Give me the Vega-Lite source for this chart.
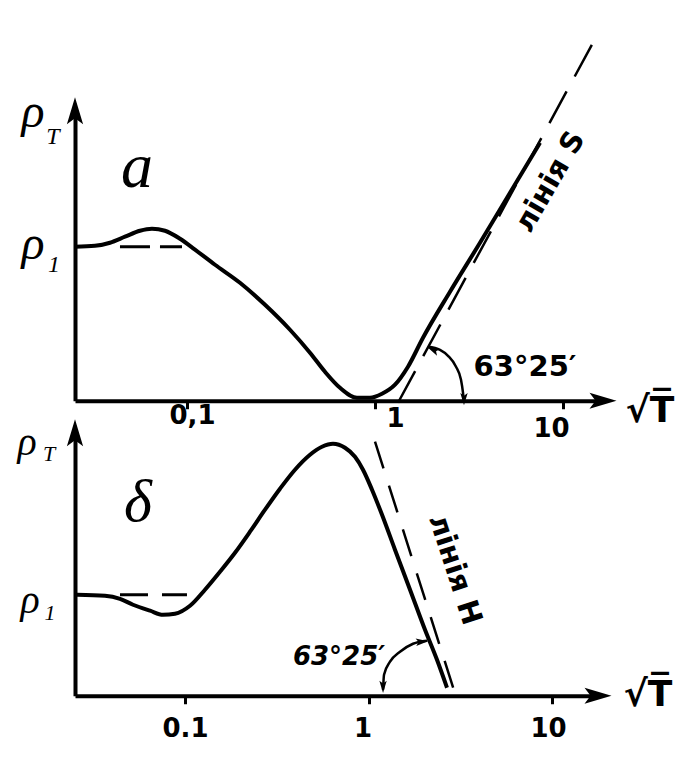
{
  "$schema": "https://vega.github.io/schema/vega-lite/v6.json",
  "background": "white",
  "padding": {"left": 17, "top": 36.75, "right": 0, "bottom": 0},
  "spacing": 32,
  "bounds": "flush",
  "config": {
    "view": {"stroke": null},
    "axis": {"domainColor": "black", "tickColor": "black", "labelColor": "black", "labelFont": "DejaVu Sans", "labelFontWeight": "bold", "grid": false, "title": null}
  },
  "vconcat": [
    {
      "width": 528,
      "height": 290,
      "encoding": {
        "x": {"field": "x", "type": "quantitative", "scale": {"type": "log", "domain": [0.02537, 16.32], "nice": false},
          "axis": {"values": [0.1, 1, 10], "labelExpr": "datum.value < 0.5 ? '0,1' : (datum.value < 5 ? '1' : '10')", "domainWidth": 4, "tickWidth": 3, "tickSize": 8, "labelFontSize": 26,
            "labelOffset": {"condition": [{"test": "datum.value < 0.5", "value": 5}, {"test": "datum.value < 5", "value": 20}], "value": -12},
            "labelPadding": {"condition": [{"test": "datum.value < 0.5", "value": -6}, {"test": "datum.value < 5", "value": -3}], "value": 7}}},
        "y": {"field": "y", "type": "quantitative", "scale": {"domain": [0, 1.883], "nice": false, "zero": false},
          "axis": {"labels": false, "ticks": false, "domainWidth": 4}}
      },
      "layer": [
        {"data": {"values": [
          {"x": 0.02537, "y": 1.0}, {"x": 0.0324, "y": 1.006}, {"x": 0.03895, "y": 1.026}, {"x": 0.04679, "y": 1.065},
          {"x": 0.05623, "y": 1.104}, {"x": 0.06514, "y": 1.117}, {"x": 0.07638, "y": 1.104}, {"x": 0.0918, "y": 1.052},
          {"x": 0.1103, "y": 0.981}, {"x": 0.1409, "y": 0.883}, {"x": 0.1913, "y": 0.766}, {"x": 0.26, "y": 0.623},
          {"x": 0.3531, "y": 0.461}, {"x": 0.451, "y": 0.312}, {"x": 0.542, "y": 0.188}, {"x": 0.6514, "y": 0.084},
          {"x": 0.8021, "y": 0.019}, {"x": 0.9406, "y": 0.019}, {"x": 1.0894, "y": 0.045}, {"x": 1.2777, "y": 0.104},
          {"x": 1.4978, "y": 0.221}, {"x": 1.8, "y": 0.409}, {"x": 2.506, "y": 0.708}, {"x": 3.618, "y": 1.026},
          {"x": 5.226, "y": 1.351}, {"x": 7.547, "y": 1.675}]},
         "mark": {"type": "line", "color": "black", "strokeWidth": 4, "interpolate": "monotone"}},
        {"data": {"values": [{"x": 0.04401, "y": 1}, {"x": 0.09406, "y": 1}]},
         "mark": {"type": "line", "color": "black", "strokeWidth": 3, "strokeDash": [30, 10]}},
        {"data": {"values": [{"x": 1.3254, "y": -0.013}, {"x": 14.44, "y": 2.325}]},
         "mark": {"type": "line", "color": "black", "strokeWidth": 2.5, "strokeDash": [36, 17]}},
        {"data": {"values": [{"x": 1.913, "y": 0.351}, {"x": 2.217, "y": 0.331}, {"x": 2.445, "y": 0.292}, {"x": 2.697, "y": 0.221}, {"x": 2.867, "y": 0.136}, {"x": 2.938, "y": 0.052}, {"x": 2.974, "y": -0.013}]},
         "mark": {"type": "line", "color": "black", "strokeWidth": 2.5, "interpolate": "monotone"}},
        {"data": {"values": [{"x": 2.974, "y": 0.01}]},
         "mark": {"type": "point", "shape": "M0,-1L0.6,1L0,0.55L-0.6,1Z", "filled": true, "color": "black", "opacity": 1, "size": 150, "angle": 180}},
        {"data": {"values": [{"x": 2.035, "y": 0.331}]},
         "mark": {"type": "point", "shape": "M0,-1L0.6,1L0,0.55L-0.6,1Z", "filled": true, "color": "black", "opacity": 1, "size": 150, "angle": 295}},
        {"data": {"values": [{"x": 0.02537, "y": 1.883}]},
         "mark": {"type": "point", "shape": "M0,-1L0.6,1L0,0.55L-0.6,1Z", "filled": true, "color": "black", "opacity": 1, "size": 729, "angle": 0}},
        {"data": {"values": [{"x": 16.32, "y": 0}]},
         "mark": {"type": "point", "shape": "M0,-1L0.6,1L0,0.55L-0.6,1Z", "filled": true, "color": "black", "opacity": 1, "size": 729, "angle": 90}},
        {"data": {"values": [{"x": 0.0542, "y": 1.513, "label": "a"}]},
         "mark": {"type": "text", "font": "Liberation Serif", "fontStyle": "italic", "fontSize": 64, "color": "black", "baseline": "middle"},
         "encoding": {"text": {"field": "label"}}},
        {"data": {"values": [{"x": 0.01517, "y": 1.87, "label": "ρ"}, {"x": 0.01517, "y": 1.013, "label": "ρ"}]},
         "mark": {"type": "text", "font": "Liberation Serif", "fontStyle": "italic", "fontSize": 48, "color": "black", "baseline": "middle"},
         "encoding": {"text": {"field": "label"}}},
        {"data": {"values": [{"x": 0.01937, "y": 1.71, "label": "T"}, {"x": 0.01962, "y": 0.883, "label": "1"}]},
         "mark": {"type": "text", "font": "Liberation Serif", "fontStyle": "italic", "fontSize": 24, "color": "black", "baseline": "middle"},
         "encoding": {"text": {"field": "label"}}},
        {"data": {"values": [{"x": 6.28, "y": 0.221, "label": "63°25′"}]},
         "mark": {"type": "text", "font": "DejaVu Sans", "fontWeight": "bold", "fontSize": 29, "color": "black", "baseline": "middle"},
         "encoding": {"text": {"field": "label"}}},
        {"data": {"values": [{"x": 8.53, "y": 1.422, "label": "лінія  S"}]},
         "mark": {"type": "text", "font": "DejaVu Sans", "fontWeight": "bold", "fontSize": 29, "color": "black", "baseline": "middle", "angle": 300},
         "encoding": {"text": {"field": "label"}}},
        {"data": {"values": [{"x": 29.02, "y": -0.065, "label": "√T̅"}]},
         "mark": {"type": "text", "font": "DejaVu Sans", "fontWeight": "bold", "fontSize": 36, "color": "black", "baseline": "middle"},
         "encoding": {"text": {"field": "label"}}}
      ]
    },
    {
      "width": 523,
      "height": 263,
      "encoding": {
        "x": {"field": "x", "type": "quantitative", "scale": {"type": "log", "domain": [0.02515, 17.81], "nice": false},
          "axis": {"values": [0.1, 1, 10], "labelExpr": "datum.value < 0.5 ? '0.1' : (datum.value < 5 ? '1' : '10')", "domainWidth": 4, "tickWidth": 3, "tickSize": 8, "labelFontSize": 26,
            "labelOffset": {"condition": [{"test": "datum.value < 0.5", "value": 0}, {"test": "datum.value < 5", "value": -6}], "value": -4},
            "labelPadding": 12}},
        "y": {"field": "y", "type": "quantitative", "scale": {"domain": [0, 2.604], "nice": false, "zero": false},
          "axis": {"labels": false, "ticks": false, "domainWidth": 4}}
      },
      "layer": [
        {"data": {"values": [
          {"x": 0.02578, "y": 1.0}, {"x": 0.03664, "y": 0.99}, {"x": 0.04423, "y": 0.96}, {"x": 0.05207, "y": 0.901},
          {"x": 0.06447, "y": 0.842}, {"x": 0.07588, "y": 0.802}, {"x": 0.08819, "y": 0.812}, {"x": 0.1065, "y": 0.891},
          {"x": 0.1285, "y": 1.05}, {"x": 0.1551, "y": 1.228}, {"x": 0.1873, "y": 1.416}, {"x": 0.226, "y": 1.624},
          {"x": 0.2729, "y": 1.842}, {"x": 0.3294, "y": 2.05}, {"x": 0.3976, "y": 2.238}, {"x": 0.48, "y": 2.386},
          {"x": 0.5579, "y": 2.465}, {"x": 0.6404, "y": 2.495}, {"x": 0.7446, "y": 2.455}, {"x": 0.8441, "y": 2.366},
          {"x": 0.9333, "y": 2.238}, {"x": 1.045, "y": 2.04}, {"x": 1.185, "y": 1.792}, {"x": 1.394, "y": 1.446},
          {"x": 1.684, "y": 1.05}, {"x": 2.032, "y": 0.653}, {"x": 2.362, "y": 0.356}, {"x": 2.678, "y": 0.079}]},
         "mark": {"type": "line", "color": "black", "strokeWidth": 4, "interpolate": "monotone"}},
        {"data": {"values": [{"x": 0.04423, "y": 1}, {"x": 0.1025, "y": 1}]},
         "mark": {"type": "line", "color": "black", "strokeWidth": 3, "strokeDash": [28, 14]}},
        {"data": {"values": [{"x": 1.085, "y": 2.515}, {"x": 3.036, "y": -0.04}]},
         "mark": {"type": "line", "color": "black", "strokeWidth": 2.5, "strokeDash": [28, 18]}},
        {"data": {"values": [{"x": 1.2, "y": 0.059}, {"x": 1.215, "y": 0.208}, {"x": 1.31, "y": 0.337}, {"x": 1.485, "y": 0.436}, {"x": 1.748, "y": 0.515}, {"x": 2.084, "y": 0.545}]},
         "mark": {"type": "line", "color": "black", "strokeWidth": 2.5, "interpolate": "monotone"}},
        {"data": {"values": [{"x": 1.2, "y": 0.089}]},
         "mark": {"type": "point", "shape": "M0,-1L0.6,1L0,0.55L-0.6,1Z", "filled": true, "color": "black", "opacity": 1, "size": 150, "angle": 180}},
        {"data": {"values": [{"x": 1.957, "y": 0.535}]},
         "mark": {"type": "point", "shape": "M0,-1L0.6,1L0,0.55L-0.6,1Z", "filled": true, "color": "black", "opacity": 1, "size": 150, "angle": 85}},
        {"data": {"values": [{"x": 0.02515, "y": 2.604}]},
         "mark": {"type": "point", "shape": "M0,-1L0.6,1L0,0.55L-0.6,1Z", "filled": true, "color": "black", "opacity": 1, "size": 729, "angle": 0}},
        {"data": {"values": [{"x": 17.81, "y": 0}]},
         "mark": {"type": "point", "shape": "M0,-1L0.6,1L0,0.55L-0.6,1Z", "filled": true, "color": "black", "opacity": 1, "size": 729, "angle": 90}},
        {"data": {"values": [{"x": 0.05544, "y": 1.911, "label": "δ"}]},
         "mark": {"type": "text", "font": "Liberation Serif", "fontStyle": "italic", "fontSize": 60, "color": "black", "baseline": "middle"},
         "encoding": {"text": {"field": "label"}}},
        {"data": {"values": [{"x": 0.01377, "y": 2.505, "label": "ρ"}, {"x": 0.0143, "y": 0.941, "label": "ρ"}]},
         "mark": {"type": "text", "font": "Liberation Serif", "fontStyle": "italic", "fontSize": 40, "color": "black", "baseline": "middle"},
         "encoding": {"text": {"field": "label"}}},
        {"data": {"values": [{"x": 0.01815, "y": 2.39, "label": "T"}, {"x": 0.01837, "y": 0.82, "label": "1"}]},
         "mark": {"type": "text", "font": "Liberation Serif", "fontStyle": "italic", "fontSize": 22, "color": "black", "baseline": "middle"},
         "encoding": {"text": {"field": "label"}}},
        {"data": {"values": [{"x": 0.6908, "y": 0.386, "label": "63°25′"}]},
         "mark": {"type": "text", "font": "DejaVu Sans", "fontStyle": "italic", "fontWeight": "bold", "fontSize": 26, "color": "black", "baseline": "middle"},
         "encoding": {"text": {"field": "label"}}},
        {"data": {"values": [{"x": 2.962, "y": 1.248, "label": "лінія  H"}]},
         "mark": {"type": "text", "font": "DejaVu Sans", "fontWeight": "bold", "fontSize": 29, "color": "black", "baseline": "middle", "angle": 72},
         "encoding": {"text": {"field": "label"}}},
        {"data": {"values": [{"x": 33.37, "y": 0.01, "label": "√T̅"}]},
         "mark": {"type": "text", "font": "DejaVu Sans", "fontWeight": "bold", "fontSize": 36, "color": "black", "baseline": "middle"},
         "encoding": {"text": {"field": "label"}}}
      ]
    }
  ]
}
